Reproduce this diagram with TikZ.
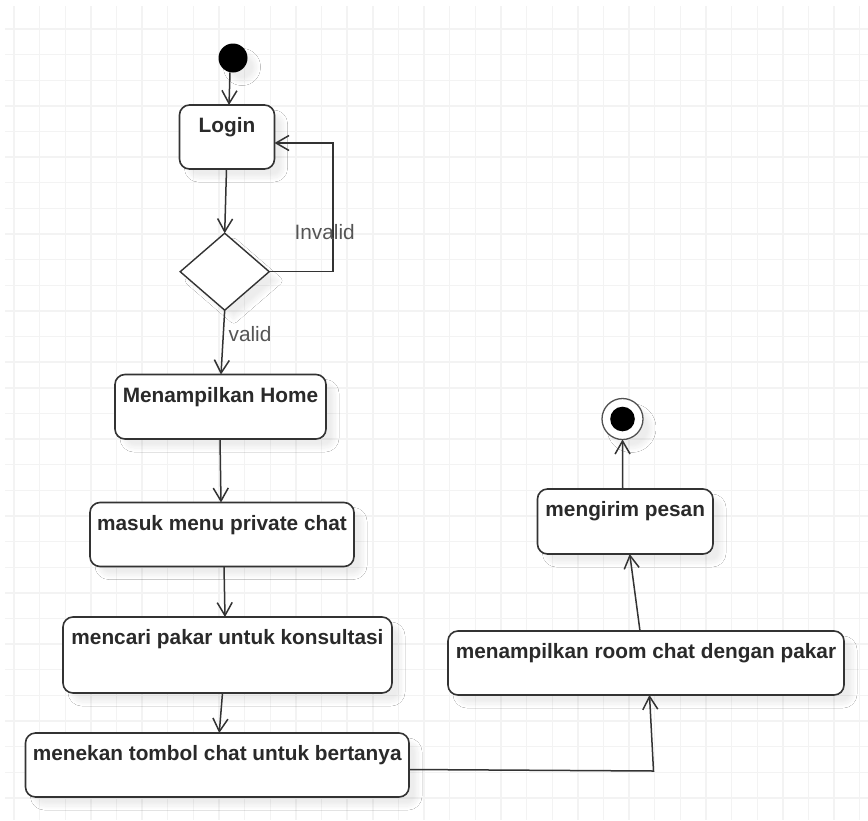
\documentclass[tikz,border=0pt]{standalone}
\usepackage{fontspec}
\setmainfont{Liberation Sans}
\usetikzlibrary{arrows.meta,shapes.geometric,calc,shadows.blur}
\definecolor{ink}{HTML}{333333}
\definecolor{txt}{HTML}{2A2A2A}
\definecolor{lbl}{HTML}{555555}
\definecolor{gridc}{HTML}{F3F3F3}
\begin{document}
\begin{tikzpicture}[x=1pt,y=-1pt,
  gridline/.style={draw=gridc, line width=1.4pt},
  softshadow/.style={blur shadow={shadow xshift=9pt, shadow yshift=-9pt,
      shadow opacity=7, shadow blur radius=4pt, shadow blur steps=10}},
  act/.style={draw=ink, line width=1.6pt, rounded corners=10pt, fill=white,
      softshadow, inner sep=0pt, outer sep=0pt, text height=27.5pt,
      font=\bfseries\fontsize{20.8}{24}\selectfont, text=txt},
  decision/.style={diamond, draw=ink, line width=1.4pt, fill=white, softshadow,
      inner sep=0pt, outer sep=0pt, minimum width=89pt, minimum height=77pt},
  startdot/.style={circle, fill=black, inner sep=0pt, outer sep=0pt,
      minimum size=29pt, softshadow},
  endring/.style={circle, draw=ink!85, line width=1.3pt, fill=white,
      inner sep=0pt, outer sep=0pt, minimum size=41pt, softshadow},
  enddot/.style={circle, fill=black, inner sep=0pt, minimum size=24.6pt},
  flow/.style={draw=ink, line width=1.5pt,
      -{Straight Barb[length=13pt,width=15pt,line width=1.5pt]}},
  guard/.style={font=\fontsize{20.8}{24}\selectfont, text=lbl, inner sep=0pt, anchor=base}
]
\useasboundingbox (0,0) rectangle (868,820);
\fill[white] (0,0) rectangle (868,820);

% background grid
\foreach \i in {0,...,33}
  \draw[gridline] ({14+25.63*\i},6) -- ({14+25.63*\i},820);
\foreach \j in {0,...,30}
  \draw[gridline] (5,{29+25.63*\j}) -- (868,{29+25.63*\j});

% activity nodes
\node[startdot] (start) at (233,58) {};
\node[act, minimum width=95pt, minimum height=64pt, text depth=36.5pt] (login) at (227,137) {Login};
\node[decision] (dec) at (224.7,271.7) {};
\node[act, minimum width=211pt, minimum height=64.5pt, text depth=37pt] (home) at (220.5,406.75) {Menampilkan Home};
\node[act, minimum width=264pt, minimum height=64pt, text depth=36.5pt] (masuk) at (222,534.5) {masuk menu private chat};
\node[act, minimum width=329pt, minimum height=76pt, text depth=48.5pt] (cari) at (227.5,655) {mencari pakar untuk konsultasi};
\node[act, minimum width=383.5pt, minimum height=64pt, text depth=36.5pt] (tekan) at (217.25,765) {menekan tombol chat untuk bertanya};
\node[act, minimum width=396pt, minimum height=64pt, text depth=36.5pt] (room) at (646,663) {menampilkan room chat dengan pakar};
\node[act, minimum width=175.5pt, minimum height=65pt, text depth=37.5pt] (kirim) at (625.25,521.5) {mengirim pesan};
\node[endring] (end) at (622.5,419) {};
\node[enddot] (endcore) at (end.center) {};

% bend points
\coordinate (loop) at (333,143);
\coordinate (bend) at (653.5,771);

% transitions
\draw[flow] ($(start.south)+(-3,0)$) -- ($(login.north)+(2,0)$);
\draw[flow] ($(login.south)+(-0.5,0)$) -- (dec.north);
\draw[flow] (dec.east) -| (loop) -- (loop -| login.east);
\draw[flow] (dec.south) -- ($(home.north)+(0.5,0)$);
\draw[flow] ($(home.south)+(-0.5,0)$) -- ($(masuk.north)+(-1,0)$);
\draw[flow] ($(masuk.south)+(2,0)$) -- ($(cari.north)+(-2.5,0)$);
\draw[flow] ($(cari.south)+(-5,0)$) -- ($(tekan.north)+(2,0)$);
\draw[flow] ($(tekan.east)+(0,4.5)$) -- (bend) -- ($(room.south)+(3.5,0)$);
\draw[flow] ($(room.north)+(-6,0)$) -- ($(kirim.south)+(4.5,0)$);
\draw[flow] ($(kirim.north)+(-2.5,0)$) -- (end.south);

% guards
\node[guard] (invalid) at (324.7,239.3) {Invalid};
\node[guard] (valid) at (250,341.7) {valid};
\end{tikzpicture}
\end{document}
